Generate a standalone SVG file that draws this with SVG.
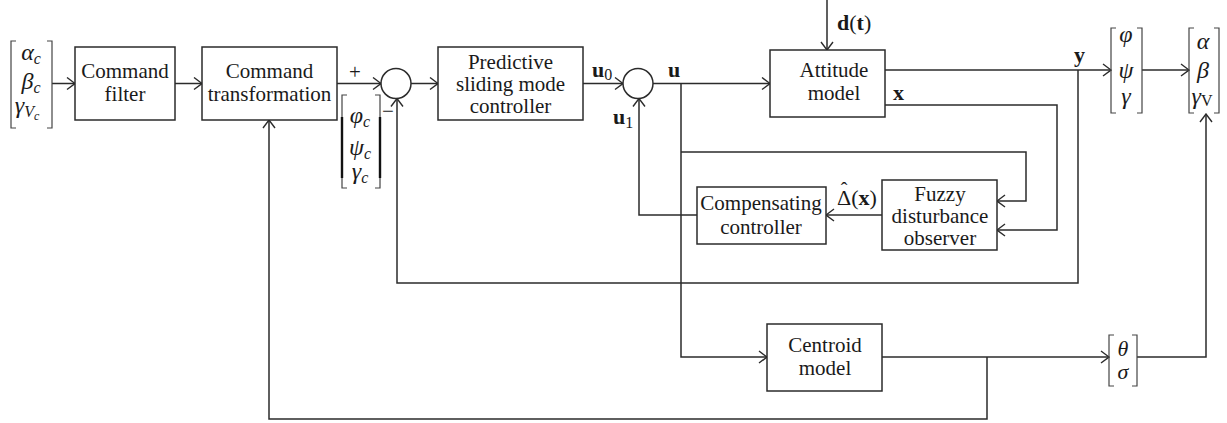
<svg xmlns="http://www.w3.org/2000/svg" width="1227" height="423" viewBox="0 0 1227 423">
<style>
.box{fill:#fff;stroke:#2b2b2b;stroke-width:1.5}
.ln{fill:none;stroke:#2b2b2b;stroke-width:1.5}
.br{fill:none;stroke:#444;stroke-width:1.2}
.t{font-family:"Liberation Serif","DejaVu Serif",serif;font-size:21px;fill:#1a1a1a;text-anchor:middle}
.m{font-family:"Liberation Serif","DejaVu Serif",serif;font-size:24px;font-style:italic;fill:#1a1a1a;text-anchor:middle}
.b{font-family:"Liberation Serif","DejaVu Serif",serif;font-size:22px;font-weight:bold;fill:#1a1a1a}
.s{font-size:16px}
</style>
<defs>
<marker id="arr" markerUnits="userSpaceOnUse" viewBox="0 0 10 14" refX="9" refY="7" markerWidth="10" markerHeight="14" orient="auto">
<path d="M1,1 L9,7 L1,13" fill="none" stroke="#2b2b2b" stroke-width="1.4"/>
</marker>
</defs>

<g id="connectors">
<path class="ln" d="M52,83.5 H75" marker-end="url(#arr)"/>
<path class="ln" d="M175,83.5 H202" marker-end="url(#arr)"/>
<path class="ln" d="M337,83.5 H381" marker-end="url(#arr)"/>
<path class="ln" d="M411,83.5 H438" marker-end="url(#arr)"/>
<path class="ln" d="M583,83.5 H623" marker-end="url(#arr)"/>
<path class="ln" d="M653,83.5 H770" marker-end="url(#arr)"/>
<path class="ln" d="M827,0 V50" marker-end="url(#arr)"/>
<path class="ln" d="M885,70 H1111" marker-end="url(#arr)"/>
<path class="ln" d="M1142,70 H1189" marker-end="url(#arr)"/>
<path class="ln" d="M885,105 H1057 V230 H997" marker-end="url(#arr)"/>
<path class="ln" d="M681,83.5 V357 H767" marker-end="url(#arr)"/>
<path class="ln" d="M681,152 H1026 V201 H997" marker-end="url(#arr)"/>
<path class="ln" d="M882,215 H826" marker-end="url(#arr)"/>
<path class="ln" d="M697,215 H639 V98.5" marker-end="url(#arr)"/>
<path class="ln" d="M1078,70 V283 H397 V98.5" marker-end="url(#arr)"/>
<path class="ln" d="M882,357 H1109" marker-end="url(#arr)"/>
<path class="ln" d="M1137,357 H1206 V114" marker-end="url(#arr)"/>
<path class="ln" d="M987,357 V419 H269 V120" marker-end="url(#arr)"/>
</g>

<g id="labels">
<text class="t" x="355" y="79">+</text>
<text class="t" x="388" y="118">−</text>
<text class="b" x="592" y="77">u<tspan class="s" font-weight="normal" dy="3">0</tspan></text>
<text class="b" x="668" y="77">u</text>
<text class="b" x="613" y="124">u<tspan class="s" font-weight="normal" dy="4">1</tspan></text>
<text class="b" x="837" y="30"><tspan>d</tspan><tspan font-weight="normal">(</tspan><tspan>t</tspan><tspan font-weight="normal">)</tspan></text>
<text class="b" x="893" y="100">x</text>
<text class="b" x="1074" y="62">y</text>
<text class="b" x="837" y="205"><tspan font-weight="normal">Δ(</tspan><tspan>x</tspan><tspan font-weight="normal">)</tspan></text>
<text class="t" x="844" y="197" style="font-size:20px">ˆ</text>
</g>

<g id="vec-cmd">
<path class="br" d="M16,41 H11 V128 H16 M47,41 H52 V128 H47"/>
<text class="m" x="31" y="60">α<tspan class="s" dy="4">c</tspan></text>
<text class="m" x="31" y="89">β<tspan class="s" dy="4">c</tspan></text>
<text class="m" x="27" y="113">γ<tspan class="s" dy="4">V</tspan><tspan style="font-size:12px" dy="3">c</tspan></text>
</g>

<g id="command-filter">
<rect class="box" x="75" y="47" width="100" height="73"/>
<text class="t" x="125" y="78">Command</text>
<text class="t" x="125" y="101">filter</text>
</g>

<g id="command-transformation">
<rect class="box" x="202" y="47" width="135" height="73"/>
<text class="t" x="269.5" y="78">Command</text>
<text class="t" x="269.5" y="101">transformation</text>
</g>

<g id="vec-ref">
<path class="br" d="M347,95 H342 V188 H347 M375,95 H380 V188 H375"/>
<path d="M342,117 V178 M380,117 V178" stroke="#111" stroke-width="2.4"/>
<text class="m" x="360" y="123">φ<tspan class="s" dy="4">c</tspan></text>
<text class="m" x="360" y="155">ψ<tspan class="s" dy="4">c</tspan></text>
<text class="m" x="360" y="179">γ<tspan class="s" dy="4">c</tspan></text>
</g>

<g id="sum1">
<circle class="box" cx="396" cy="83.5" r="15"/>
</g>

<g id="psmc">
<rect class="box" x="438" y="47" width="145" height="73"/>
<text class="t" x="510.5" y="69">Predictive</text>
<text class="t" x="510.5" y="91">sliding mode</text>
<text class="t" x="510.5" y="113">controller</text>
</g>

<g id="sum2">
<circle class="box" cx="638" cy="83.5" r="15"/>
</g>

<g id="attitude-model">
<rect class="box" x="770" y="50" width="115" height="67"/>
<text class="t" x="834" y="77">Attitude</text>
<text class="t" x="834" y="100">model</text>
</g>

<g id="compensating-controller">
<rect class="box" x="697" y="187" width="129" height="57"/>
<text class="t" x="761" y="210">Compensating</text>
<text class="t" x="761" y="234">controller</text>
</g>

<g id="fuzzy-observer">
<rect class="box" x="882" y="180" width="115" height="70"/>
<text class="t" x="940" y="201">Fuzzy</text>
<text class="t" x="940" y="223">disturbance</text>
<text class="t" x="940" y="245">observer</text>
</g>

<g id="centroid-model">
<rect class="box" x="767" y="324" width="115" height="67"/>
<text class="t" x="825" y="352">Centroid</text>
<text class="t" x="825" y="375">model</text>
</g>

<g id="vec-att">
<path class="br" d="M1116,28 H1111 V113 H1116 M1137,28 H1142 V113 H1137"/>
<text class="m" x="1126" y="42">φ</text>
<text class="m" x="1126" y="78">ψ</text>
<text class="m" x="1126" y="104">γ</text>
</g>

<g id="vec-out">
<path class="br" d="M1194,28 H1189 V113 H1194 M1214,28 H1219 V113 H1214"/>
<text class="m" x="1203" y="49">α</text>
<text class="m" x="1203" y="78">β</text>
<text class="m" x="1202" y="104">γ<tspan class="s" font-style="normal" dy="2">V</tspan></text>
</g>

<g id="vec-centroid">
<path class="br" d="M1114,335 H1109 V386 H1114 M1132,335 H1137 V386 H1132"/>
<text class="m" x="1123" y="356" style="font-size:22px">θ</text>
<text class="m" x="1123" y="379" style="font-size:22px">σ</text>
</g>
</svg>
